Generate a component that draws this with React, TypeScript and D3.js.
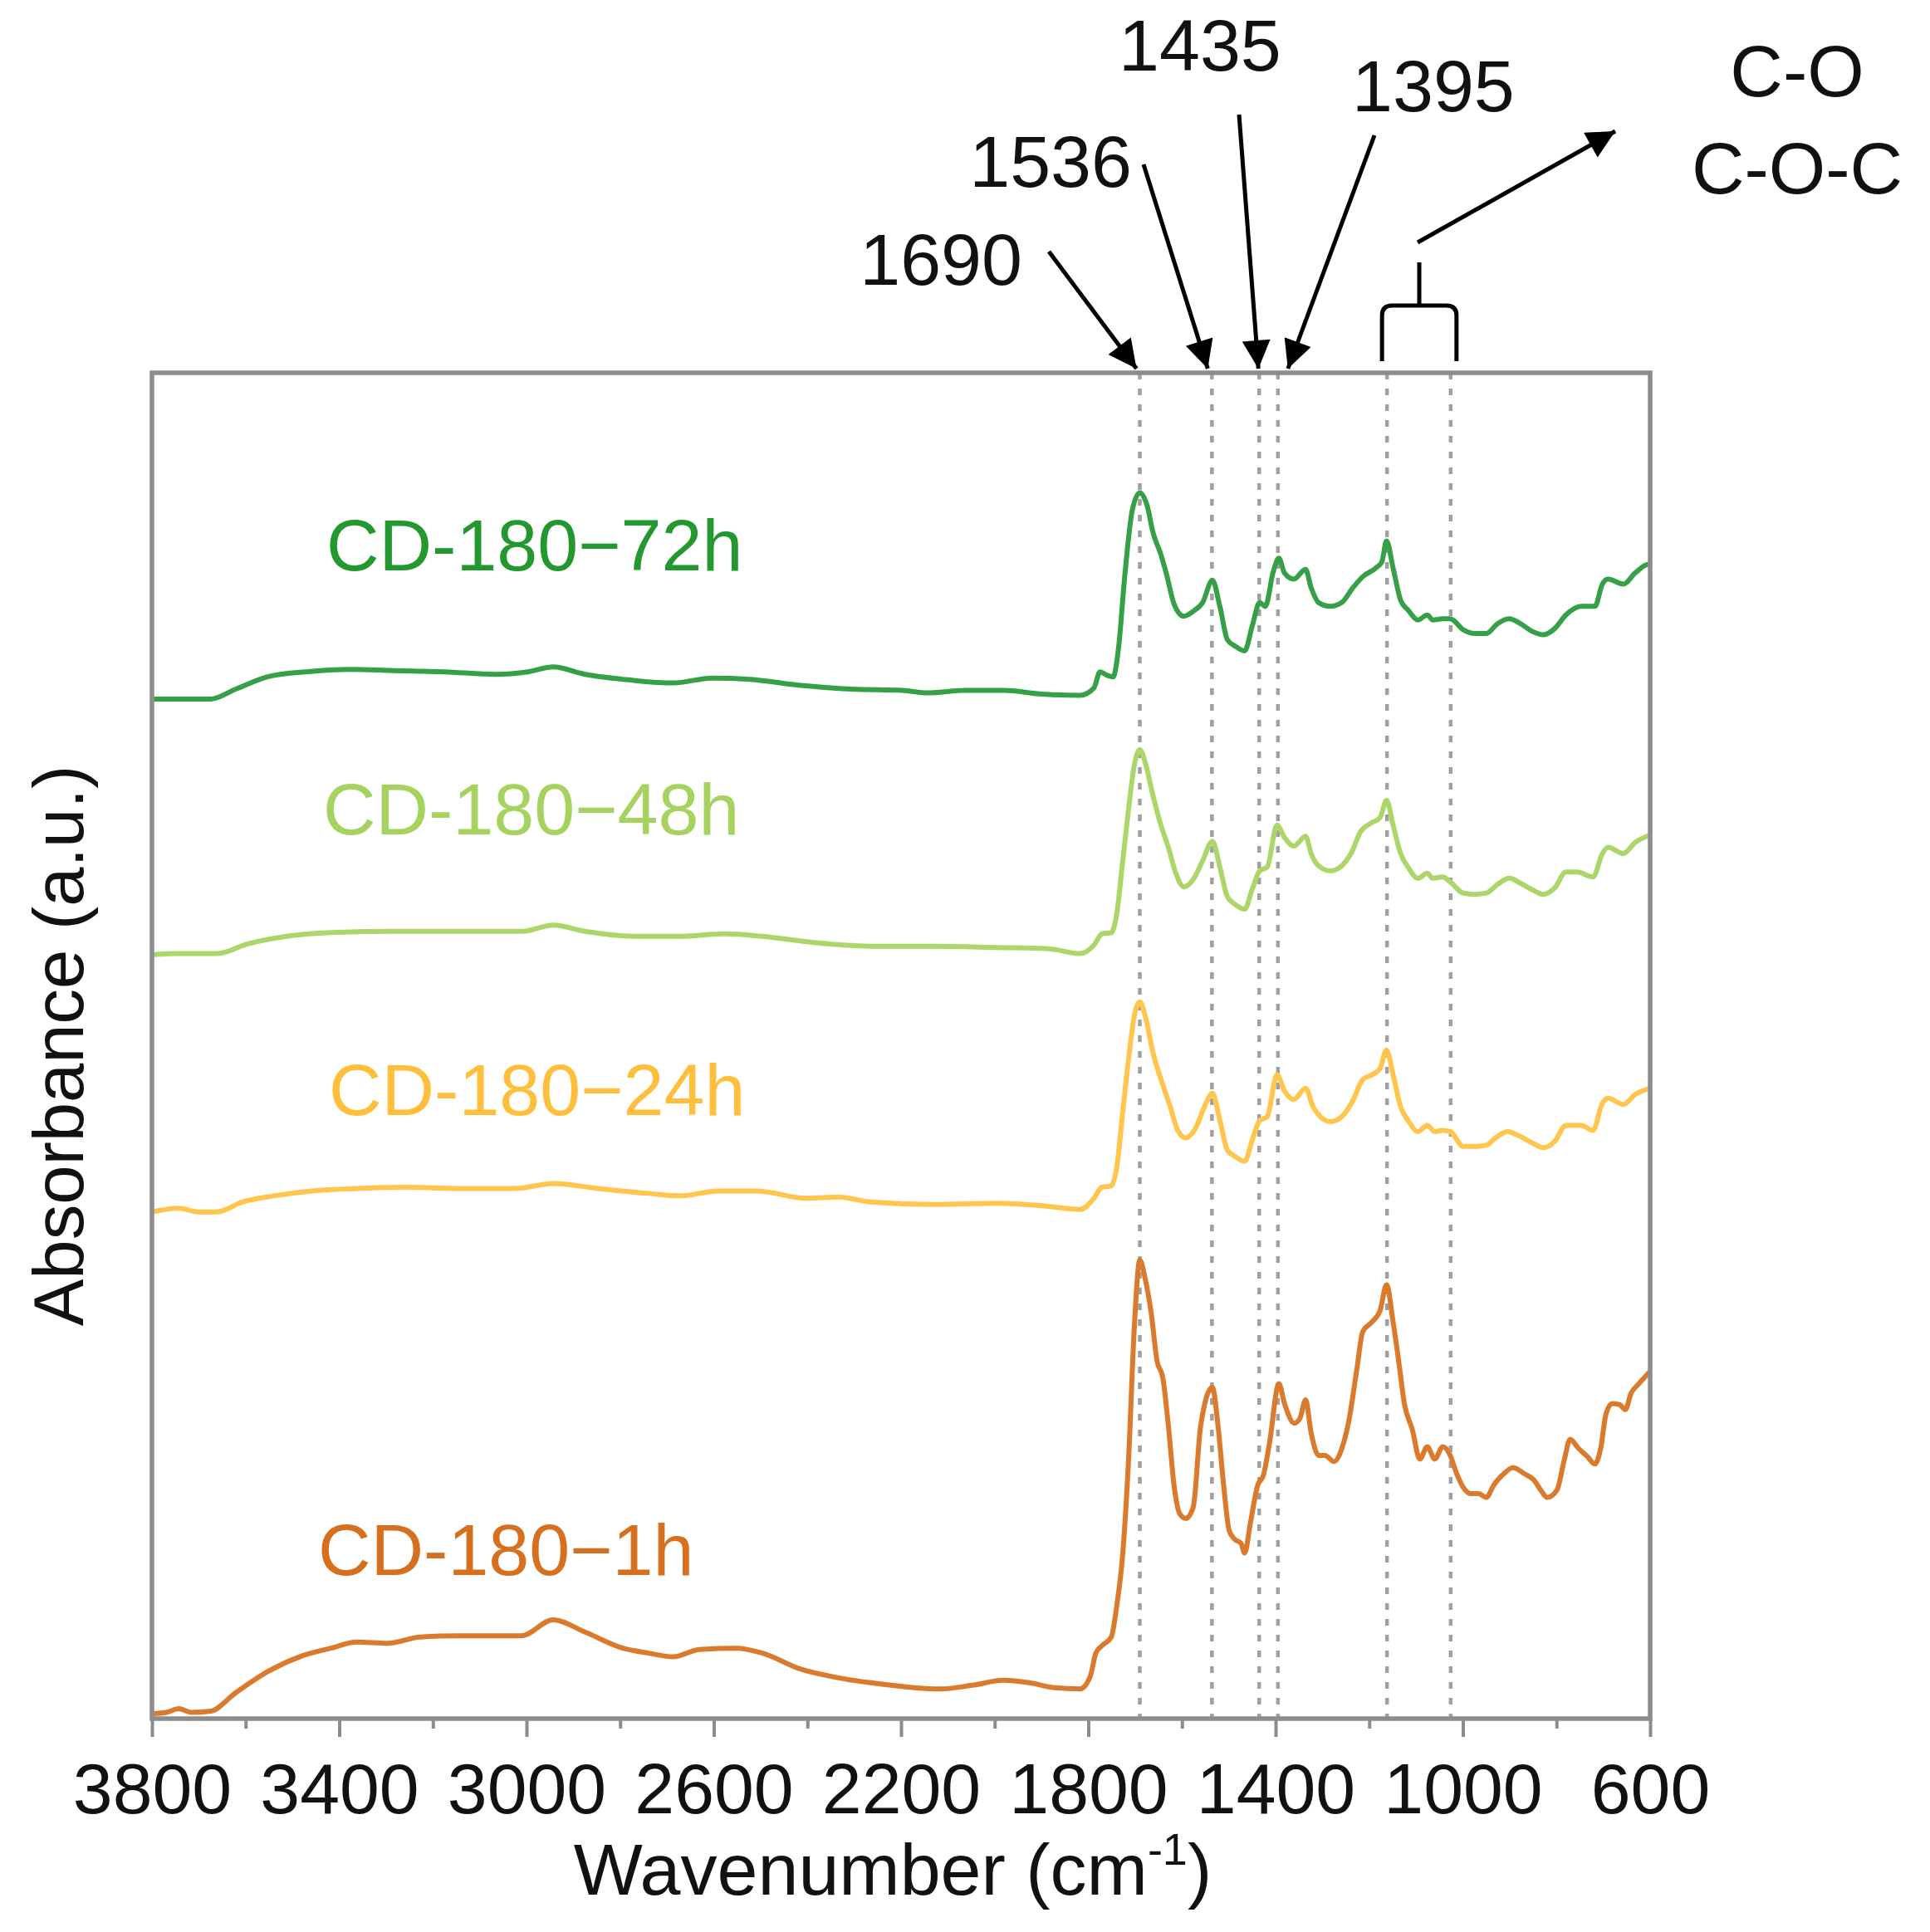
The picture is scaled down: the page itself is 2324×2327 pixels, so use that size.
import * as d3 from "d3";
import { useEffect, useRef } from "react";

// FTIR spectra, [wavenumber (cm-1), absorbance (a.u., stacked offset)]
const spectrum72h: [number, number][] = [
    [3800, 825], [3675, 825], [3621, 833], [3553, 843], [3472, 847], [3377, 849],
    [3282, 848], [3174, 847], [3065, 845], [2997, 847], [2943, 851], [2875, 845],
    [2794, 841], [2686, 838], [2604, 842], [2523, 841], [2414, 836], [2306, 833],
    [2197, 832], [2143, 830], [2062, 832], [1980, 832], [1899, 829], [1818, 828],
    [1788, 834], [1775, 847], [1759, 844], [1747, 843], [1735, 868], [1723, 921],
    [1706, 978], [1690, 992], [1674, 981], [1662, 960], [1645, 942], [1633, 926],
    [1617, 902], [1596, 892], [1576, 896], [1556, 903], [1535, 921], [1519, 900],
    [1503, 873], [1487, 868], [1466, 864], [1450, 884], [1434, 903], [1422, 900],
    [1405, 928], [1393, 939], [1381, 927], [1361, 922], [1336, 930], [1324, 915],
    [1308, 903], [1283, 900], [1259, 903], [1235, 915], [1214, 924], [1186, 931],
    [1173, 936], [1163, 953], [1149, 931], [1133, 905], [1117, 897], [1096, 889],
    [1076, 893], [1064, 889], [1043, 890], [1027, 890], [999, 881], [975, 878],
    [950, 878], [926, 886], [901, 890], [877, 886], [853, 880], [828, 877],
    [804, 882], [780, 893], [747, 900], [718, 900], [702, 918], [690, 922],
    [657, 918], [632, 927], [604, 934], [600, 934],
];

const spectrum48h: [number, number][] = [
    [3800, 618], [3743, 619], [3662, 619], [3594, 627], [3513, 633], [3418, 636],
    [3282, 637], [3146, 637], [3011, 637], [2943, 642], [2875, 637], [2767, 633],
    [2672, 633], [2577, 635], [2496, 633], [2387, 628], [2265, 625], [2129, 625],
    [1994, 624], [1885, 623], [1818, 619], [1788, 626], [1771, 635], [1751, 636],
    [1739, 652], [1727, 692], [1714, 736], [1702, 771], [1690, 784], [1678, 773],
    [1662, 747], [1645, 723], [1629, 705], [1613, 684], [1596, 673], [1576, 679],
    [1556, 694], [1535, 710], [1519, 689], [1503, 665], [1487, 659], [1466, 655],
    [1450, 671], [1434, 686], [1418, 689], [1397, 723], [1381, 713], [1361, 706],
    [1336, 714], [1324, 700], [1308, 690], [1283, 686], [1259, 690], [1239, 700],
    [1218, 718], [1194, 725], [1177, 729], [1163, 743], [1149, 723], [1133, 700],
    [1117, 689], [1096, 680], [1076, 684], [1064, 680], [1043, 681], [1027, 677],
    [999, 668], [975, 667], [950, 668], [926, 675], [901, 680], [877, 676],
    [853, 671], [828, 667], [804, 672], [780, 685], [756, 685], [722, 681],
    [702, 700], [690, 705], [657, 700], [632, 709], [600, 715],
];

const spectrum24h: [number, number][] = [
    [3800, 410], [3743, 413], [3702, 410], [3662, 410], [3607, 418], [3540, 423],
    [3458, 427], [3363, 429], [3255, 430], [3146, 429], [3024, 429], [2943, 433],
    [2848, 429], [2740, 425], [2672, 423], [2590, 427], [2509, 427], [2401, 421],
    [2333, 422], [2265, 418], [2129, 416], [1994, 417], [1899, 415], [1818, 412],
    [1788, 421], [1771, 430], [1751, 431], [1739, 447], [1727, 489], [1714, 534],
    [1702, 568], [1690, 580], [1678, 568], [1662, 539], [1641, 513], [1625, 495],
    [1609, 476], [1592, 470], [1572, 477], [1552, 495], [1535, 506], [1519, 484],
    [1503, 460], [1487, 455], [1466, 451], [1450, 468], [1434, 484], [1418, 487],
    [1397, 521], [1381, 508], [1361, 501], [1336, 510], [1320, 495], [1304, 487],
    [1283, 483], [1259, 487], [1235, 500], [1214, 517], [1194, 521], [1177, 526],
    [1163, 541], [1149, 521], [1133, 495], [1117, 484], [1096, 475], [1076, 480],
    [1060, 475], [1043, 476], [1027, 475], [999, 463], [975, 463], [950, 464],
    [930, 470], [905, 475], [877, 471], [853, 466], [828, 462], [804, 467],
    [780, 480], [747, 480], [722, 476], [702, 498], [690, 502], [657, 497],
    [632, 505], [600, 510],
];

const spectrum1h: [number, number][] = [
    [3800, 4], [3770, 5], [3743, 8], [3716, 5], [3675, 6], [3621, 21], [3553, 38],
    [3485, 50], [3418, 57], [3363, 62], [3296, 61], [3228, 66], [3146, 67],
    [3079, 67], [3011, 67], [2943, 80], [2875, 70], [2794, 57], [2740, 53],
    [2686, 50], [2631, 56], [2550, 57], [2496, 53], [2414, 40], [2333, 33],
    [2265, 29], [2197, 26], [2116, 24], [2048, 27], [1980, 31], [1926, 29],
    [1872, 25], [1818, 24], [1796, 34], [1784, 53], [1771, 59], [1751, 66],
    [1739, 92], [1727, 131], [1714, 210], [1702, 315], [1690, 371], [1678, 355],
    [1666, 329], [1653, 289], [1641, 276], [1629, 237], [1617, 189], [1605, 166],
    [1592, 162], [1576, 171], [1560, 237], [1535, 268], [1523, 237], [1511, 189],
    [1499, 152], [1487, 145], [1474, 142], [1466, 134], [1454, 158], [1438, 189],
    [1426, 197], [1413, 223], [1393, 271], [1381, 255], [1360, 239], [1348, 243],
    [1336, 258], [1324, 231], [1308, 213], [1295, 213], [1275, 208], [1259, 218],
    [1243, 242], [1226, 284], [1214, 313], [1194, 321], [1177, 330], [1163, 351],
    [1149, 321], [1137, 289], [1125, 255], [1108, 234], [1092, 210], [1076, 220],
    [1060, 210], [1043, 220], [1027, 213], [1015, 200], [999, 187], [983, 182],
    [966, 182], [950, 179], [934, 189], [913, 198], [893, 203], [868, 198],
    [848, 193], [832, 184], [820, 179], [799, 185], [783, 210], [771, 226],
    [754, 219], [734, 212], [718, 206], [706, 218], [694, 247], [681, 255],
    [665, 254], [653, 250], [641, 263], [624, 271], [600, 281],
];

const seriesNames = ["CD-180\u221272h", "CD-180\u221248h", "CD-180\u221224h", "CD-180\u22121h"];
const seriesData = [spectrum72h, spectrum48h, spectrum24h, spectrum1h];

const xTicks = [3800, 3400, 3000, 2600, 2200, 1800, 1400, 1000, 600];
const xMinorTicks = [3600, 3200, 2800, 2400, 2000, 1600, 1200, 800];

const peakPositions = [1690, 1536, 1435, 1395];
const peakLabels = ["1690", "1536", "1435", "1395"];
const bandPositions = [1162, 1026];
const bandLabels = ["C-O", "C-O-C"];

const xDomain: [number, number] = [3800, 600];
const yDomain: [number, number] = [0, 1089];

// styling
const lineColors = ["#36a046", "#acd66a", "#ffc54d", "#d97a2d"];
const labelColors = ["#23982f", "#a6d35f", "#ffbf3c", "#d6701f"];
const labelPos = [
    { x: 393, y: 687 },
    { x: 389, y: 1005 },
    { x: 396, y: 1343 },
    { x: 383, y: 1897 },
];
const FONT = "'Liberation Sans', Arial, Helvetica, sans-serif";

function drawChart(svgElement: SVGSVGElement) {
    const svg = d3.select(svgElement);
    svg.selectAll("*").remove();

    const W = 2324;
    const H = 2327;
    const margin = { top: 449, right: 337, bottom: 257, left: 183 };
    const width = W - margin.left - margin.right;
    const height = H - margin.top - margin.bottom;

    svg.attr("width", W).attr("height", H);

    const defs = svg.append("defs");
    defs.append("marker")
        .attr("id", "arrowHead")
        .attr("viewBox", "0 0 10 10")
        .attr("refX", 10)
        .attr("refY", 5)
        .attr("markerWidth", 44)
        .attr("markerHeight", 34)
        .attr("markerUnits", "userSpaceOnUse")
        .attr("orient", "auto")
        .append("path")
        .attr("d", "M0,0 L10,5 L0,10 Z")
        .attr("fill", "#000");

    const chart = svg.append("g").attr("transform", `translate(${margin.left},${margin.top})`);

    const x = d3.scaleLinear().domain(xDomain).range([0, width]);
    const y = d3.scaleLinear().domain(yDomain).range([height, 0]);

    // dotted peak guides
    chart.selectAll(".guide")
        .data([...peakPositions, ...bandPositions])
        .join("line")
        .attr("x1", (d) => x(d))
        .attr("x2", (d) => x(d))
        .attr("y1", 0)
        .attr("y2", height)
        .attr("stroke", "#a0a0a0")
        .attr("stroke-width", 4.5)
        .attr("stroke-dasharray", "8 11");

    // spectra
    const line = d3.line<[number, number]>()
        .x((d) => x(d[0]))
        .y((d) => y(d[1]))
        .curve(d3.curveMonotoneX);

    chart.selectAll(".spectrum")
        .data(seriesData)
        .join("path")
        .attr("d", (d) => line(d))
        .attr("fill", "none")
        .attr("stroke", (_, i) => lineColors[i])
        .attr("stroke-width", 6)
        .attr("stroke-linejoin", "round");

    // series labels
    svg.selectAll(".serieslabel")
        .data(seriesNames)
        .join("text")
        .attr("x", (_, i) => labelPos[i].x)
        .attr("y", (_, i) => labelPos[i].y)
        .style("font-family", FONT)
        .style("font-size", "88px")
        .style("fill", (_, i) => labelColors[i])
        .text((d) => d);

    // frame
    chart.append("rect")
        .attr("x", 0)
        .attr("y", 0)
        .attr("width", width)
        .attr("height", height)
        .attr("fill", "none")
        .attr("stroke", "#8c8c8c")
        .attr("stroke-width", 5.5);

    // x axis
    const xAxis = chart.append("g").attr("transform", `translate(0,${height})`);
    xAxis.call(d3.axisBottom(x).tickValues(xTicks).tickSize(22).tickPadding(30).tickFormat(d3.format("d")))
        .call((g) => g.select(".domain").remove());
    xAxis.selectAll("line").attr("stroke", "#8c8c8c").attr("stroke-width", 4);
    xAxis.selectAll("text")
        .style("font-family", FONT)
        .style("font-size", "86px")
        .style("fill", "#111")
        .attr("dy", "0.72em");

    const minor = chart.append("g").attr("transform", `translate(0,${height})`);
    minor.call(d3.axisBottom(x).tickValues(xMinorTicks).tickSize(12).tickFormat(() => ""))
        .call((g) => g.select(".domain").remove());
    minor.selectAll("line").attr("stroke", "#8c8c8c").attr("stroke-width", 4);

    // x title
    const xt = svg.append("text")
        .attr("x", 1075)
        .attr("y", 2282)
        .attr("text-anchor", "middle")
        .style("font-family", FONT)
        .style("font-size", "88px")
        .style("fill", "#111");
    xt.append("tspan").text("Wavenumber (cm");
    xt.append("tspan").attr("dy", -36).style("font-size", "54px").text("-1");
    xt.append("tspan").attr("dy", 36).text(")");

    // y title
    svg.append("text")
        .attr("transform", `translate(100, ${margin.top + height / 2}) rotate(-90)`)
        .attr("text-anchor", "middle")
        .style("font-family", FONT)
        .style("font-size", "85px")
        .style("fill", "#111")
        .text("Absorbance (a.u.)");

    // peak annotations
    const top = margin.top - 5;
    const px = (w: number) => margin.left + x(w);
    const peakAnno = [
        { lx: 1231, ly: 343, anchor: "end", sx: 1263, sy: 303, dx: -4 },
        { lx: 1363, ly: 225, anchor: "end", sx: 1377, sy: 198, dx: -5 },
        { lx: 1347, ly: 85, anchor: "start", sx: 1492, sy: 138, dx: -1 },
        { lx: 1628, ly: 134, anchor: "start", sx: 1655, sy: 163, dx: 12 },
    ];

    peakPositions.forEach((w, i) => {
        const a = peakAnno[i];
        svg.append("text")
            .attr("x", a.lx)
            .attr("y", a.ly)
            .attr("text-anchor", a.anchor)
            .style("font-family", FONT)
            .style("font-size", "88px")
            .style("fill", "#111")
            .text(peakLabels[i]);
        svg.append("line")
            .attr("x1", a.sx)
            .attr("y1", a.sy)
            .attr("x2", px(w) + a.dx)
            .attr("y2", top)
            .attr("stroke", "#000")
            .attr("stroke-width", 5)
            .attr("marker-end", "url(#arrowHead)");
    });

    // C-O band bracket
    const bx1 = px(bandPositions[0]) - 6;
    const bx2 = px(bandPositions[1]) + 7;
    const bm = (bx1 + bx2) / 2;
    const bTop = 368;
    const bBot = 435;
    const r = 12;
    svg.append("path")
        .attr("d",
            `M${bx1},${bBot} L${bx1},${bTop + r} Q${bx1},${bTop} ${bx1 + r},${bTop} ` +
            `L${bx2 - r},${bTop} Q${bx2},${bTop} ${bx2},${bTop + r} L${bx2},${bBot} ` +
            `M${bm},${bTop} L${bm},316`)
        .attr("fill", "none")
        .attr("stroke", "#000")
        .attr("stroke-width", 5);

    svg.append("line")
        .attr("x1", bm - 2)
        .attr("y1", 292)
        .attr("x2", 1945)
        .attr("y2", 158)
        .attr("stroke", "#000")
        .attr("stroke-width", 5)
        .attr("marker-end", "url(#arrowHead)");

    svg.selectAll(".bandlabel")
        .data(bandLabels)
        .join("text")
        .attr("x", 2164)
        .attr("y", (_, i) => (i === 0 ? 116 : 233))
        .attr("text-anchor", "middle")
        .style("font-family", FONT)
        .style("font-size", "88px")
        .style("fill", "#111")
        .text((d) => d);
}

export default function App() {
    const chartRef = useRef<SVGSVGElement | null>(null);

    useEffect(() => {
        document.body.style.margin = "0";
        if (chartRef.current) {
            drawChart(chartRef.current);
        }
    }, []);

    return (
        <div style={{ background: "#fff" }}>
            <svg ref={chartRef} style={{ display: "block", background: "#fff" }}></svg>
        </div>
    );
}
